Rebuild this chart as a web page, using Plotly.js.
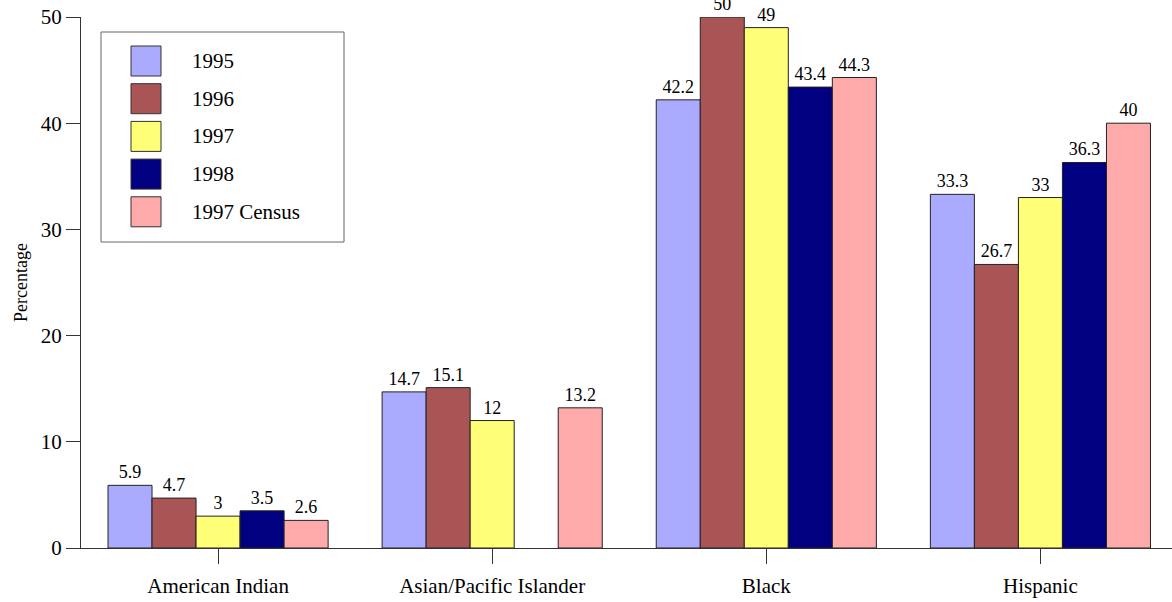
<!DOCTYPE html>
<html><head><meta charset="utf-8">
<script src="https://cdn.plot.ly/plotly-3.0.1.min.js"></script>
<style>html,body{margin:0;padding:0;background:#fff}#chart{width:1172px;height:602px}</style>
</head><body><div id="chart"></div>
<script>
const categories = ["American Indian", "Asian/Pacific Islander", "Black", "Hispanic"];
const seriesNames = ["1995", "1996", "1997", "1998", "1997 Census"];
const v1995 = [5.9, 14.7, 42.2, 33.3];
const v1996 = [4.7, 15.1, 50, 26.7];
const v1997 = [3, 12, 49, 33];
const v1998 = [3.5, null, 43.4, 36.3];
const vCensus = [2.6, 13.2, 44.3, 40];
const colors = ["#AAAAFF", "#AA5555", "#FFFF77", "#000080", "#FFAAAA"];
const yTicks = [0, 10, 20, 30, 40, 50];

const allValues = [v1995, v1996, v1997, v1998, vCensus];
const font = "'Liberation Serif', 'Times New Roman', Times, serif";

const traces = allValues.map((vals, i) => ({
  type: "bar",
  name: seriesNames[i],
  x: categories,
  y: vals,
  text: vals.map(v => v == null ? "" : String(v)),
  textposition: "outside",
  textfont: {family: font, size: 18, color: "#000"},
  cliponaxis: false,
  marker: {color: colors[i], line: {color: "#222", width: 1}},
  hoverinfo: "x+y+name"
}));

// pixel -> paper helpers (plot area: x 81..1172, y 17..548)
const L = 81, R = 1172, T = 17, B = 548;
const px = x => (x - L) / (R - L);
const py = y => (B - y) / (B - T);

const shapes = [{
  type: "rect", xref: "paper", yref: "paper",
  x0: px(101), x1: px(344), y0: py(32), y1: py(242),
  line: {color: "#666", width: 1}, fillcolor: "#fff", layer: "above"
}];
const annotations = [];
seriesNames.forEach((n, i) => {
  const cy = 61 + i * 37.7;
  shapes.push({
    type: "rect", xref: "paper", yref: "paper",
    x0: px(131), x1: px(161), y0: py(cy - 15), y1: py(cy + 15),
    fillcolor: colors[i], line: {color: "#333", width: 1}, layer: "above"
  });
  annotations.push({
    xref: "paper", yref: "paper", x: px(190), y: py(cy), xanchor: "left", yanchor: "middle",
    text: n, showarrow: false, font: {family: font, size: 21, color: "#000"}
  });
});

const layout = {
  width: 1172, height: 602,
  margin: {l: L, r: 1172 - R, t: T, b: 602 - B},
  paper_bgcolor: "#fff", plot_bgcolor: "#fff",
  barmode: "group", bargap: 0.197, bargroupgap: 0,
  showlegend: false,
  font: {family: font, color: "#000"},
  xaxis: {
    type: "category", range: [-0.5, 3.48],
    showline: true, linecolor: "#333", linewidth: 1,
    ticks: "outside", ticklen: 15, tickcolor: "#333", tickwidth: 1,
    ticklabelstandoff: 4,
    tickfont: {family: font, size: 21, color: "#000"},
    showgrid: false, zeroline: false, fixedrange: true
  },
  yaxis: {
    range: [0, 50], tickvals: yTicks, ticktext: yTicks.map(String),
    showline: true, linecolor: "#333", linewidth: 1,
    ticks: "outside", ticklen: 14, tickcolor: "#333", tickwidth: 1,
    tickfont: {family: font, size: 21, color: "#000"},
    showgrid: false, zeroline: false, fixedrange: true,
    title: {text: "Percentage", font: {family: font, size: 18, color: "#000"}, standoff: 8}
  },
  shapes: shapes,
  annotations: annotations
};

Plotly.newPlot("chart", traces, layout, {displayModeBar: false, responsive: false});
</script></body></html>
